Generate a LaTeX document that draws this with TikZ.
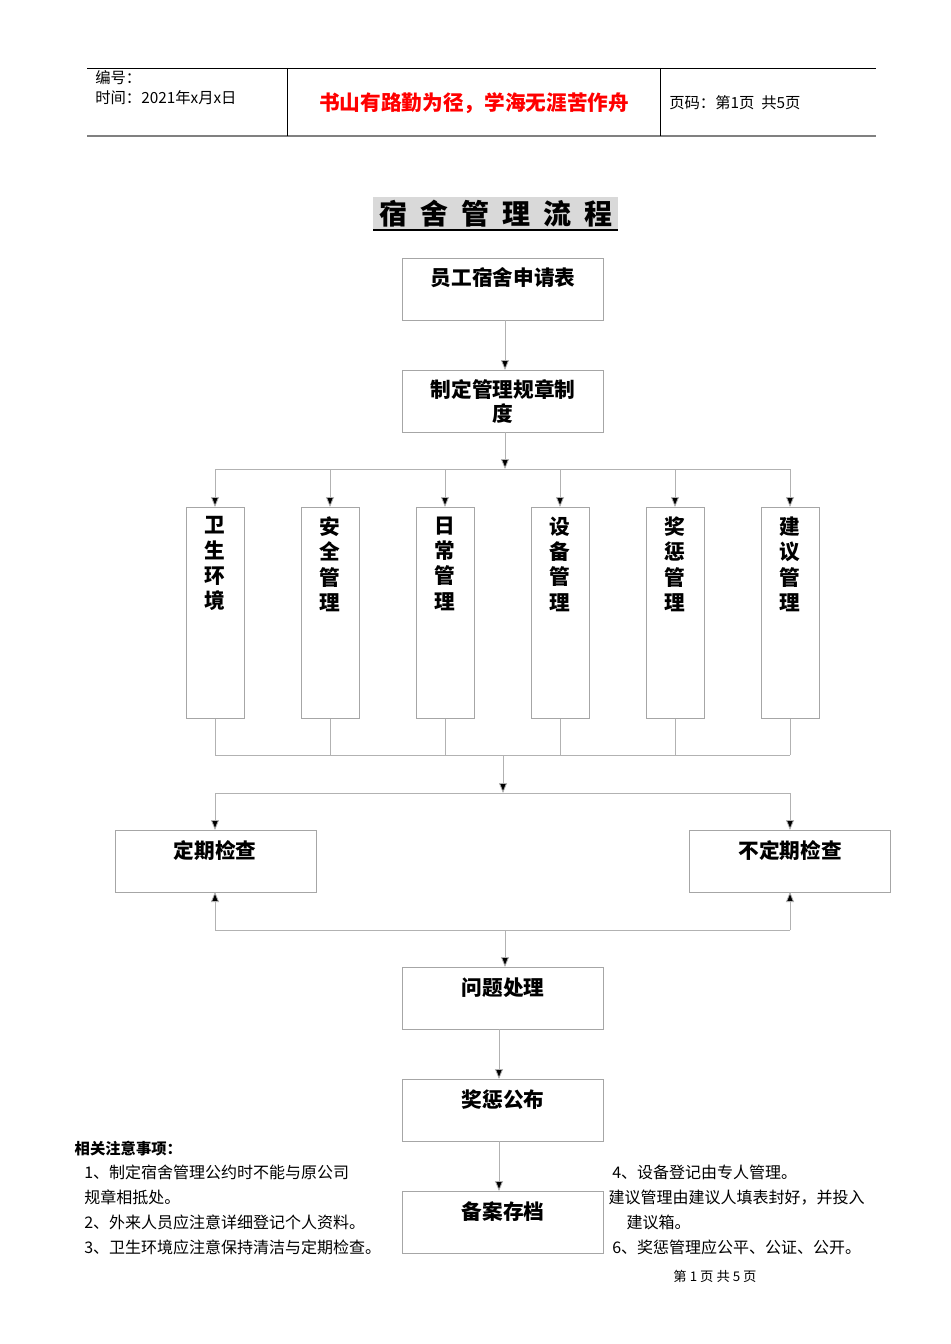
\documentclass[tikz,border=0pt]{standalone}
\usepackage{fontspec}
\setmainfont{Liberation Sans}
\newfontfamily\cjk{Noto Sans CJK SC}
\usetikzlibrary{arrows.meta}
\begin{document}
\begin{tikzpicture}[x=0.75pt,y=-0.75pt,
  bx/.style={draw=gray!70,line width=0.6pt,minimum width=201*0.75pt,minimum height=62*0.75pt,anchor=north west},
  tall/.style={draw=gray!70,line width=0.6pt,minimum width=58*0.75pt,minimum height=211*0.75pt,anchor=north},
  ln/.style={draw=gray!60,line width=0.6pt},
  ar/.style={ln,-{Triangle[length=7.5pt,width=6pt,fill=black]}},
  lbl/.style={font=\cjk\bfseries\fontsize{15.5}{18}\selectfont,align=center},
  tl/.style={font=\cjk\bfseries\fontsize{15.5}{19}\selectfont,align=center},
  nt/.style={font=\cjk\fontsize{12}{18.75}\selectfont,anchor=west,align=left}]
\useasboundingbox (0,0) rectangle (950,1344);
\fill[white] (0,0) rectangle (950,1344);
% header
\draw[line width=0.6pt] (87,68) -- (876,68);
\draw[gray,line width=1.5pt] (87,136) -- (876,136);
\draw[line width=0.6pt] (287,68) -- (287,136) (660,68) -- (660,136);
\node[font=\cjk\fontsize{11.5}{15}\selectfont,anchor=north west,align=left,inner sep=0] (h1) at (95,70) {编号：\\时间：2021年x月x日};
\node[font=\cjk\bfseries\fontsize{15.5}{18}\selectfont,text=red] (h2) at (474,103) {书山有路勤为径，学海无涯苦作舟};
\node[font=\cjk\fontsize{11.5}{14}\selectfont,anchor=west,inner sep=0] (h3) at (669,103) {页码：第1页\ \ 共5页};
% title
\fill[gray!30] (373,197) rectangle (618,231);
\node[font=\cjk\bfseries\fontsize{21}{24}\selectfont] (title) at (496,214) {宿\ \ 舍\ \ 管\ \ 理\ \ 流\ \ 程};
\draw[line width=1pt] (373,230) -- (618,230);
% main boxes
\node[bx] (b1) at (402,258) {};
\node[lbl] at (503,278) {员工宿舍申请表};
\node[bx] (b2) at (402,370) {};
\node[lbl] at (503,402) {制定管理规章制\\度};
\draw[ar] (505,320) -- (505,370);
\draw[ar] (505,432) -- (505,469);
\draw[ln] (215,469) -- (790,469);
\foreach \x/\t [count=\i] in {215/卫\\生\\环\\境,330/安\\全\\管\\理,445/日\\常\\管\\理,560/设\\备\\管\\理,675/奖\\惩\\管\\理,790/建\\议\\管\\理}{
  \node[tall] (t\i) at (\x,507) {};
  \node[tl,anchor=north] at (\x,512) {\t};
  \draw[ar] (\x,469) -- (t\i.north);
  \draw[ln] (t\i.south) -- (\x,755);
}
\draw[ln] (215,755) -- (790,755);
\draw[ar] (503,755) -- (503,793);
\draw[ln] (215,793) -- (790,793);
\node[bx] (c1) at (115,830) {};
\node[lbl] at (215,851) {定期检查};
\node[bx] (c2) at (689,830) {};
\node[lbl] at (790,851) {不定期检查};
\draw[ar] (215,793) -- (215,830);
\draw[ar] (790,793) -- (790,830);
\draw[ar] (215,930) -- (215,892);
\draw[ar] (790,930) -- (790,892);
\draw[ln] (215,930) -- (790,930);
\node[bx] (d1) at (402,967) {};
\node[lbl] at (503,988) {问题处理};
\draw[ar] (505,930) -- (505,967);
\node[bx] (d2) at (402,1079) {};
\node[lbl] at (503,1100) {奖惩公布};
\draw[ar] (499,1029) -- (499,1079);
\node[bx] (d3) at (402,1191) {};
\node[lbl] at (503,1212) {备案存档};
\draw[ar] (499,1141) -- (499,1191);
% notes
\node[font=\cjk\bfseries\fontsize{11.5}{14}\selectfont,anchor=west] (n0) at (70,1149) {相关注意事项：};
\node[nt] (n1) at (76,1210) {\ 1、制定宿舍管理公约时不能与原公司\\\ 规章相抵处。\\\ 2、外来人员应注意详细登记个人资料。\\\ 3、卫生环境应注意保持清洁与定期检查。};
\node[nt] (n2) at (604,1210) {\ 4、设备登记由专人管理。\\建议管理由建议人填表封好，并投入\\\ \ \ \ \ 建议箱。\\\ 6、奖惩管理应公平、公证、公开。};
\node[font=\cjk\fontsize{10}{12}\selectfont] (pg) at (715,1276) {第 1 页 共 5 页};
\end{tikzpicture}
\end{document}
